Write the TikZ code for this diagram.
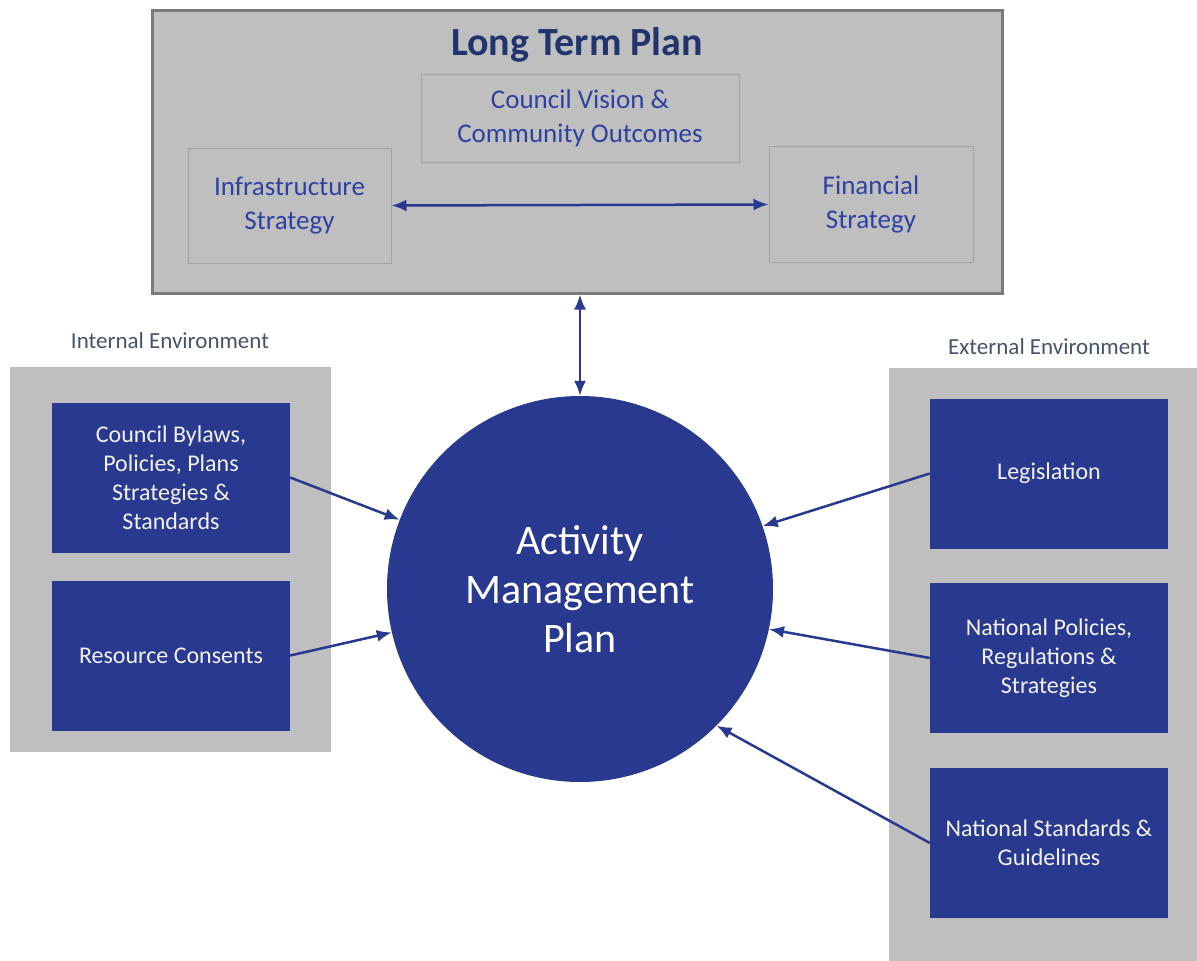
\documentclass[tikz,border=0pt]{standalone}
\usepackage{fontspec}
\setmainfont{Carlito}
\usetikzlibrary{arrows.meta}

\definecolor{amblue}{HTML}{28398F}
\definecolor{panelgray}{HTML}{BFBFBF}
\definecolor{borderdark}{HTML}{7A7A7A}
\definecolor{innerborder}{HTML}{A3A3A3}
\definecolor{titleblue}{HTML}{22346E}
\definecolor{planblue}{HTML}{2F41A0}
\definecolor{envtext}{HTML}{44546A}
\definecolor{boxtext}{HTML}{F2F2F2}

\begin{document}
\begin{tikzpicture}[x=1pt,y=-1pt,>={Latex[length=15pt,width=12pt]},
    panel/.style={fill=panelgray,draw=none,inner sep=0pt},
    plan box/.style={draw=innerborder,line width=1pt,fill=panelgray,align=center,text=planblue,font=\fontsize{27}{34}\selectfont,inner sep=0pt},
    input box/.style={fill=amblue,text=boxtext,align=center,font=\fontsize{24}{29}\selectfont,minimum width=238pt,minimum height=150pt,inner sep=0pt},
    env label/.style={text=envtext,font=\fontsize{23}{28}\selectfont},
    feed/.style={->,draw=amblue,line width=2.5pt}]
    \useasboundingbox (0,0) rectangle (1197,961);

    % long term plan
    \node[panel,draw=borderdark,line width=3pt,minimum width=850pt,minimum height=283pt] (ltp) at (577,151.5) {};
    \node[text=titleblue,font=\fontsize{40}{48}\selectfont\bfseries] (ltptitle) at (577,45) {Long Term Plan};
    \node[plan box,minimum width=318pt,minimum height=88pt] (vision) at (580,118) {Council Vision \&\\Community Outcomes};
    \node[plan box,minimum width=203pt,minimum height=115pt] (infra) at (289.5,205.5) {Infrastructure\\Strategy};
    \node[plan box,minimum width=204pt,minimum height=116pt] (fin) at (871,204.5) {Financial\\Strategy};

    % activity management plan
    \node[circle,fill=amblue,text=white,align=center,minimum size=386pt,inner sep=0pt,font=\fontsize{42}{49}\selectfont] (amp) at (580,589) {Activity\\Management\\Plan};

    % internal environment
    \node[panel,minimum width=321pt,minimum height=385pt] (intpanel) at (170.5,559.5) {};
    \node[env label] (intlabel) at (170,341) {Internal Environment};
    \node[input box] (bylaws) at (171,477.5) {Council Bylaws,\\Policies, Plans\\Strategies \&\\Standards};
    \node[input box] (consents) at (171,655.5) {Resource Consents};

    % external environment
    \node[panel,minimum width=308pt,minimum height=593pt] (extpanel) at (1043,664.5) {};
    \node[env label] (extlabel) at (1049,347) {External Environment};
    \node[input box] (legis) at (1049,473.5) {Legislation};
    \node[input box] (natpol) at (1049,658) {National Policies,\\Regulations \&\\Strategies};
    \node[input box] (natstd) at (1049,843) {National Standards \&\\Guidelines};

    % connectors
    \draw[feed,<->] (infra.east) -- (fin.west);
    \draw[feed,<->] (amp.north |- ltp.south) -- (amp.north);
    \draw[feed] (bylaws.east) -- (amp.159);
    \draw[feed] (consents.east) -- (amp.193);
    \draw[feed] (legis.west) -- (amp.19);
    \draw[feed] (natpol.west) -- (amp.-12);
    \draw[feed] (natstd.west) -- (amp.-45);
\end{tikzpicture}
\end{document}
